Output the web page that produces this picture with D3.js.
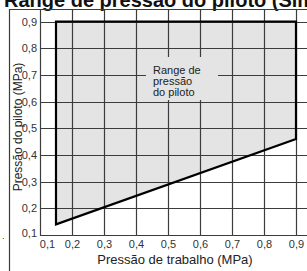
<!DOCTYPE html>
<html>
<head>
<meta charset="utf-8">
<script src="https://cdn.jsdelivr.net/npm/d3@7"></script>
<style>
  body { margin: 0; background: #fff; }
  svg { display: block; font-family: "Liberation Sans", Arial, sans-serif; }
</style>
</head>
<body>
<div id="chart"></div>
<script>
// chart values
let xTicks = [0.1, 0.2, 0.3, 0.4, 0.5, 0.6, 0.7, 0.8, 0.9];
let yTicks = [0.1, 0.2, 0.3, 0.4, 0.5, 0.6, 0.7, 0.8, 0.9];
// pilot pressure range outline (working pressure, pilot pressure)
let rangeX = [0.15, 0.9, 0.9, 0.15];
let rangeY = [0.9, 0.9, 0.46, 0.14];
let rangeLabel = ["Range de", "pressão", "do piloto"];

let svgWidth = 307;
let svgHeight = 271;

let svg = d3.select("#chart")
    .append("svg")
    .attr("width", svgWidth)
    .attr("height", svgHeight);

// scales
let x = d3.scaleLinear().domain([0.1, 0.9]).range([40, 296]);
let y = d3.scaleLinear().domain([0.1, 0.9]).range([235, 21.5]);

let plotTop = 9;
let plotRight = 330;
let gridColor = "#3c3c3c";
let fillColor = "#e4e4e4";

// title (cut off at the top like the original)
svg.append("text")
    .attr("x", 4)
    .attr("y", 7)
    .attr("font-size", 20)
    .attr("font-weight", "bold")
    .attr("fill", "#111")
    .text("Range de pressão do piloto (Simples)");

// polygon fill
let pts = rangeX.map((d, i) => [x(d), y(rangeY[i])]);
svg.append("polygon")
    .attr("points", pts.map(p => p.join(",")).join(" "))
    .attr("fill", fillColor);

// grid: one path with all lines
let gridPath = "";
xTicks.forEach(d => {
    let px = Math.round(x(d)) + 0.5;
    gridPath += `M${px},${plotTop}L${px},${Math.round(y(0.1)) + 1}`;
});
yTicks.forEach(d => {
    let py = Math.round(y(d)) + 0.5;
    gridPath += `M${x(0.1)},${py}L${plotRight},${py}`;
});
// outer frame (left and top edges)
gridPath += `M9.5,400L9.5,${plotTop + 0.5}L${plotRight},${plotTop + 0.5}`;

svg.append("path")
    .attr("d", gridPath)
    .attr("fill", "none")
    .attr("stroke", gridColor)
    .attr("stroke-width", 1.2);

// label box hides grid behind the text
svg.append("rect")
    .attr("x", 146)
    .attr("y", 57)
    .attr("width", 72)
    .attr("height", 43)
    .attr("fill", fillColor);

// polygon outline
svg.append("polygon")
    .attr("points", pts.map(p => p.join(",")).join(" "))
    .attr("fill", "none")
    .attr("stroke", "#000")
    .attr("stroke-width", 2.2)
    .attr("stroke-linejoin", "miter");

svg.append("text")
    .attr("x", 153)
    .attr("y", 74)
    .attr("font-size", 11)
    .attr("fill", "#222")
    .selectAll("tspan")
    .data(rangeLabel)
    .join("tspan")
    .attr("x", 153)
    .attr("dy", (d, i) => i === 0 ? 0 : 11)
    .text(d => d);

// axes
let xAxis = d3.axisBottom(x)
    .tickValues(xTicks)
    .tickSize(0)
    .tickPadding(5)
    .tickFormat(d => d3.format(".1f")(d).replace(".", ","));
let gx = svg.append("g")
    .attr("transform", `translate(0, ${y(0.1)})`)
    .call(xAxis);
gx.select(".domain").remove();
gx.selectAll("text")
    .attr("font-size", 11)
    .attr("font-family", "Liberation Sans, Arial, sans-serif")
    .attr("fill", "#333")
    .attr("dx", d => d === 0.1 ? 7 : 0);

let yAxis = d3.axisLeft(y)
    .tickValues(yTicks)
    .tickSize(0)
    .tickPadding(3)
    .tickFormat(d => d3.format(".1f")(d).replace(".", ","));
let gy = svg.append("g")
    .attr("transform", `translate(${x(0.1)}, 0)`)
    .call(yAxis);
gy.select(".domain").remove();
gy.selectAll("text")
    .attr("font-size", 11)
    .attr("font-family", "Liberation Sans, Arial, sans-serif")
    .attr("fill", "#333")
    .attr("dy", d => d === 0.1 ? "0.1em" : "0.32em");

// axis labels
svg.append("text")
    .attr("x", 175)
    .attr("y", 264)
    .attr("text-anchor", "middle")
    .attr("font-size", 13)
    .attr("fill", "#222")
    .text("Pressão de trabalho (MPa)");

svg.append("text")
    .attr("transform", "translate(22, 127) rotate(-90)")
    .attr("text-anchor", "middle")
    .attr("font-size", 12)
    .attr("fill", "#222")
    .text("Pressão do piloto (MPa)");

svg.append("text")
    .attr("x", 2)
    .attr("y", 239)
    .attr("font-size", 9)
    .attr("fill", "#333")
    .text(".");
</script>
</body>
</html>
